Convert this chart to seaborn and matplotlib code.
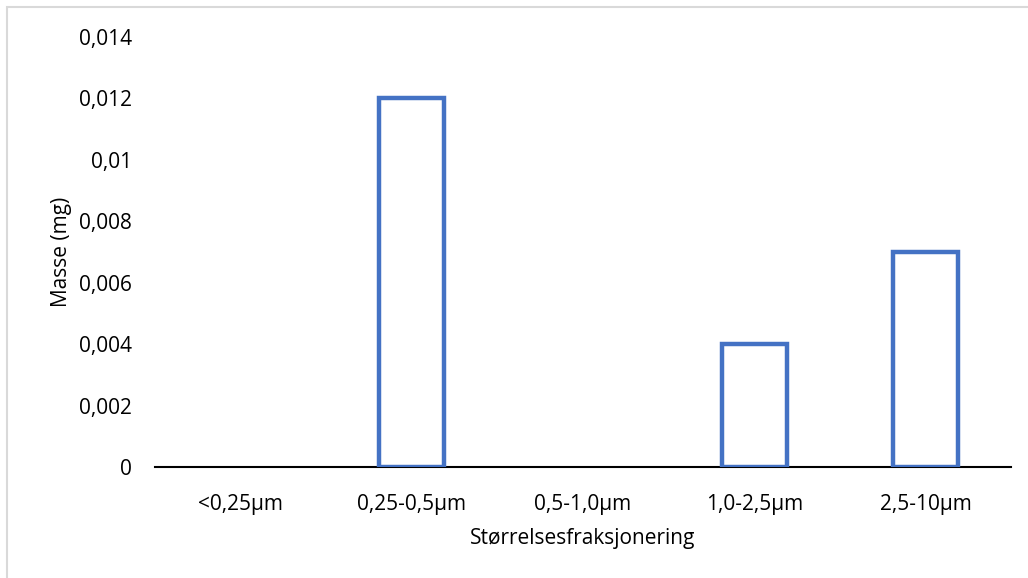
import matplotlib
matplotlib.use("Agg")
import matplotlib.pyplot as plt
import seaborn as sns
import pandas as pd
from matplotlib.ticker import FuncFormatter
from matplotlib.patches import Rectangle

categories = ["<0,25µm", "0,25-0,5µm", "0,5-1,0µm", "1,0-2,5µm", "2,5-10µm"]
masses = [0.0, 0.012, 0.0, 0.004, 0.007]
yticks = [0, 0.002, 0.004, 0.006, 0.008, 0.01, 0.012, 0.014]

sns.set_theme(style="white")
plt.rcParams['font.family'] = ['Open Sans', 'DejaVu Sans']

df = pd.DataFrame({"cat": categories, "mass": masses})

fig = plt.figure(figsize=(10.28, 5.78), dpi=100)
ax = fig.add_axes([155/1028, 1 - 467/578, (1011 - 155)/1028, (467 - 37)/578])

sns.barplot(data=df, x="cat", y="mass", ax=ax, width=0.38,
            facecolor="none", edgecolor="#4472C4", linewidth=3.2)
for p, v in zip(ax.patches, masses):
    if v == 0:
        p.set_visible(False)
    else:
        p.set_zorder(3)

ax.set_ylim(0, 0.014)
ax.set_xlim(-0.5, 4.5)
ax.set_yticks(yticks)
def fmt(v, pos):
    if abs(v) < 1e-12:
        return "0"
    s = ("%.3f" % v).rstrip("0")
    return s.replace(".", ",")
ax.yaxis.set_major_formatter(FuncFormatter(fmt))

for s in ["top", "right", "left"]:
    ax.spines[s].set_visible(False)
ax.spines["bottom"].set_color("black")
ax.spines["bottom"].set_linewidth(1.5)
ax.spines["bottom"].set_zorder(1)
ax.tick_params(axis="both", length=0, labelsize=15, colors="black")
ax.tick_params(axis="y", pad=16.5)
ax.tick_params(axis="x", pad=19.5)
ax.set_xlabel("Størrelsesfraksjonering", fontsize=15, color="black", labelpad=9)
ax.set_ylabel("Masse (mg)", fontsize=15, color="black", labelpad=5)

fig.patches.append(Rectangle((7/1028, -0.1), 1.2, 1 - 7/578 + 0.1, transform=fig.transFigure,
                             fill=False, edgecolor="#D9D9D9", linewidth=1.5))

fig.savefig("out.png", dpi=100)
